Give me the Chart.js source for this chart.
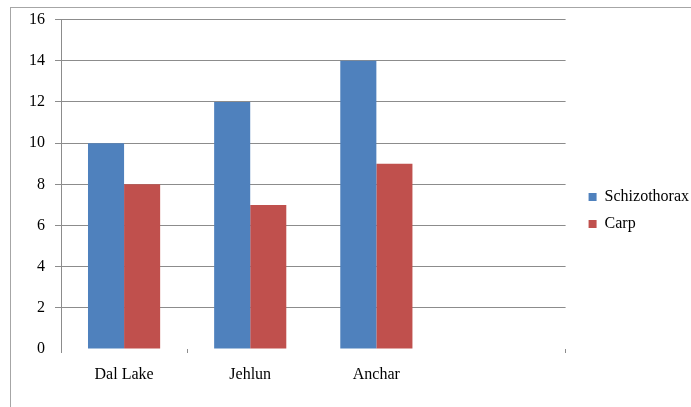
<!DOCTYPE html>
<html>
<head>
<meta charset="utf-8">
<script src="https://cdn.jsdelivr.net/npm/chart.js@4"></script>
<style>
  body { margin: 0; background: #fff; }
  #wrap { position: relative; width: 691px; height: 407px; overflow: hidden; }
  #frame { position: absolute; left: 10px; top: 7px; width: 720px; height: 440px; border: 1px solid #a6a6a6; pointer-events: none; }
  canvas { position: absolute; left: 0; top: 0; }
</style>
</head>
<body>
<div id="wrap">
  <div id="frame"></div>
  <canvas id="fishChart" width="691" height="407"></canvas>
</div>
<script>
const sites = ["Dal Lake", "Jehlun", "Anchar", ""];
const schizothorax = [10, 12, 14, null];
const carp = [8, 7, 9, null];
const yTicks = [0, 2, 4, 6, 8, 10, 12, 14, 16];

const gridGray = "#8c8c8c";
const serif = "'Liberation Serif', 'Times New Roman', serif";

// nudge the legend a bit further away from the plot
const legendShift = {
    id: "legendShift",
    afterLayout(chart) {
        chart.legend.left += 12;
        chart.legend.right += 12;
        chart.legend.top += 3;
        chart.legend.bottom += 3;
    }
};

new Chart(document.getElementById("fishChart"), {
    type: "bar",
    data: {
        labels: sites,
        datasets: [
            {
                label: "Schizothorax",
                data: schizothorax,
                backgroundColor: "#4f81bd",
                borderWidth: 0
            },
            {
                label: "Carp",
                data: carp,
                backgroundColor: "#c0504d",
                borderWidth: 0
            }
        ]
    },
    options: {
        responsive: false,
        animation: false,
        layout: {
            padding: { left: 0, right: 4, top: 8, bottom: 0 }
        },
        datasets: {
            bar: { barPercentage: 1, categoryPercentage: 0.572 }
        },
        scales: {
            x: {
                grid: {
                    offset: true,
                    drawOnChartArea: false,
                    tickLength: 4,
                    color: (c) => (c.type === "scale" || c.index === 0 || c.index === 1) ? gridGray : "rgba(0,0,0,0)"
                },
                border: { display: false },
                ticks: {
                    padding: 12,
                    color: "#000",
                    font: { family: serif, size: 16 }
                },
                afterFit(scale) { scale.height = 58; }
            },
            y: {
                min: 0,
                max: 16,
                afterBuildTicks(scale) {
                    scale.ticks = yTicks.map(v => ({ value: v }));
                },
                grid: {
                    tickLength: 6,
                    color: (c) => (c.tick && c.tick.value === 0) ? "rgba(0,0,0,0)" : gridGray
                },
                border: { display: true, color: gridGray },
                ticks: {
                    padding: 10,
                    color: "#000",
                    font: { family: serif, size: 16 }
                },
                afterFit(scale) { scale.width = 61; }
            }
        },
        plugins: {
            legend: {
                position: "right",
                align: "center",
                labels: {
                    boxWidth: 8,
                    boxHeight: 8,
                    padding: 11,
                    color: "#000",
                    font: { family: serif, size: 16 }
                }
            },
            tooltip: { enabled: false }
        }
    },
    plugins: [legendShift]
});
</script>
</body>
</html>
